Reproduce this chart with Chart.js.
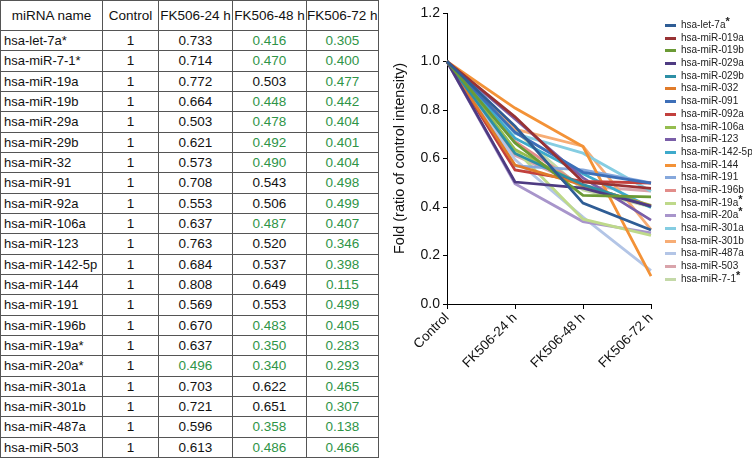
<!DOCTYPE html>
<html>
<head>
<meta charset="utf-8">
<script src="https://cdn.jsdelivr.net/npm/chart.js@4.4.1/dist/chart.umd.min.js"></script>
<style>
body { margin: 0; width: 752px; height: 459px; background: #fff; position: relative; overflow: hidden; font-family: "Liberation Sans", Arial, sans-serif; }
#tbl { position: absolute; left: 0; top: 0; border-collapse: collapse; table-layout: fixed; }
#tbl td, #tbl th { border: 1px solid #555; padding: 0; font-size: 13.5px; text-align: center; font-weight: normal; color: #111; white-space: nowrap; overflow: hidden; }
#tbl th { font-size: 13.5px; }
#tbl tr.head { height: 30px; }
#tbl tr.row { height: 20.33px; }
#tbl td.name { text-align: left; padding-left: 3px; font-size: 13px; }
#tbl td.low { color: #2f9447; }
#wrap { position: absolute; left: 380px; top: 0; width: 372px; height: 459px; }
#legend { position: absolute; left: 665px; top: 19px; font-size: 10px; color: #222; }
.item { height: 12.7px; line-height: 12.7px; position: relative; white-space: nowrap; padding-left: 16px; }
.item i { position: absolute; left: 0; top: 5px; width: 11px; height: 3px; }
.item b { font-size: 11px; line-height: 0; position: relative; top: -3px; }
</style>
</head>
<body>
<table id="tbl"></table>
<div id="wrap"><canvas id="chart" width="372" height="459"></canvas></div>
<div id="legend"></div>
<script>
'use strict';
const headers = ['miRNA name', 'Control', 'FK506-24 h', 'FK506-48 h', 'FK506-72 h'];
const timePoints = ['Control', 'FK506-24 h', 'FK506-48 h', 'FK506-72 h'];
const rowNames = ['hsa-let-7a*', 'hsa-miR-7-1*', 'hsa-miR-19a', 'hsa-miR-19b', 'hsa-miR-29a', 'hsa-miR-29b', 'hsa-miR-32', 'hsa-miR-91', 'hsa-miR-92a', 'hsa-miR-106a', 'hsa-miR-123', 'hsa-miR-142-5p', 'hsa-miR-144', 'hsa-miR-191', 'hsa-miR-196b', 'hsa-miR-19a*', 'hsa-miR-20a*', 'hsa-miR-301a', 'hsa-miR-301b', 'hsa-miR-487a', 'hsa-miR-503'];
const control = [1, 1, 1, 1, 1, 1, 1, 1, 1, 1, 1, 1, 1, 1, 1, 1, 1, 1, 1, 1, 1];
const h24 = [0.733, 0.714, 0.772, 0.664, 0.503, 0.621, 0.573, 0.708, 0.553, 0.637, 0.763, 0.684, 0.808, 0.569, 0.670, 0.637, 0.496, 0.703, 0.721, 0.596, 0.613];
const h48 = [0.416, 0.470, 0.503, 0.448, 0.478, 0.492, 0.490, 0.543, 0.506, 0.487, 0.520, 0.537, 0.649, 0.553, 0.483, 0.350, 0.340, 0.622, 0.651, 0.358, 0.486];
const h72 = [0.305, 0.400, 0.477, 0.442, 0.404, 0.401, 0.404, 0.498, 0.499, 0.407, 0.346, 0.398, 0.115, 0.499, 0.405, 0.283, 0.293, 0.465, 0.307, 0.138, 0.466];

// legend order of the chart, with the table row each series comes from
const legendNames = ['hsa-let-7a', 'hsa-miR-019a', 'hsa-miR-019b', 'hsa-miR-029a', 'hsa-miR-029b', 'hsa-miR-032', 'hsa-miR-091', 'hsa-miR-092a', 'hsa-miR-106a', 'hsa-miR-123', 'hsa-miR-142-5p', 'hsa-miR-144', 'hsa-miR-191', 'hsa-miR-196b', 'hsa-miR-19a', 'hsa-miR-20a', 'hsa-miR-301a', 'hsa-miR-301b', 'hsa-miR-487a', 'hsa-miR-503', 'hsa-miR-7-1'];
const legendStar = [true, false, false, false, false, false, false, false, false, false, false, false, false, false, true, true, false, false, false, false, true];
const legendRows = [0, 2, 3, 4, 5, 6, 7, 8, 9, 10, 11, 12, 13, 14, 15, 16, 17, 18, 19, 20, 1];
const colors = ['#2f5d95', '#983234', '#6b9a35', '#4e3b82', '#2d8fa5', '#e07b2a', '#3d6fb8', '#c2403d', '#95bd4f', '#7a5ea8', '#3eaacb', '#f39237', '#86a8dc', '#e28d8a', '#bed98a', '#a895cb', '#85cde2', '#f7ad75', '#b3c5e6', '#d9a4ab', '#c4d9a8'];

const colWidths = [102, 56, 74, 74, 71];
const font = '"Liberation Sans", Arial, sans-serif';

(function buildTable() {
    const tbl = document.getElementById('tbl');
    const cg = document.createElement('colgroup');
    for (let i = 0; i < colWidths.length; i++) {
        const c = document.createElement('col');
        c.style.width = colWidths[i] + 'px';
        cg.appendChild(c);
    }
    tbl.appendChild(cg);
    const head = document.createElement('tr');
    head.className = 'head';
    for (let i = 0; i < headers.length; i++) {
        const th = document.createElement('th');
        th.textContent = headers[i];
        head.appendChild(th);
    }
    tbl.appendChild(head);
    for (let r = 0; r < rowNames.length; r++) {
        const tr = document.createElement('tr');
        tr.className = 'row';
        const nameTd = document.createElement('td');
        nameTd.className = 'name';
        nameTd.textContent = rowNames[r];
        tr.appendChild(nameTd);
        const ctl = document.createElement('td');
        ctl.textContent = control[r];
        tr.appendChild(ctl);
        const vals = [h24[r], h48[r], h72[r]];
        for (let k = 0; k < vals.length; k++) {
            const td = document.createElement('td');
            td.textContent = vals[k].toFixed(3);
            if (vals[k] < 0.5) td.className = 'low';
            tr.appendChild(td);
        }
        tbl.appendChild(tr);
    }
})();

const datasets = [];
for (let i = 0; i < legendNames.length; i++) {
    const r = legendRows[i];
    datasets.push({
        label: legendNames[i] + (legendStar[i] ? '*' : ''),
        data: [control[r], h24[r], h48[r], h72[r]],
        borderColor: colors[i],
        backgroundColor: colors[i],
    });
}

(function buildLegend() {
    const lg = document.getElementById('legend');
    for (let i = 0; i < legendNames.length; i++) {
        const item = document.createElement('div');
        item.className = 'item';
        const mark = document.createElement('i');
        mark.style.background = colors[i];
        item.appendChild(mark);
        item.appendChild(document.createTextNode(legendNames[i]));
        if (legendStar[i]) {
            const s = document.createElement('b');
            s.textContent = '*';
            item.appendChild(s);
        }
        lg.appendChild(item);
    }
})();

new Chart(document.getElementById('chart'), {
    type: 'line',
    data: { labels: timePoints, datasets: datasets },
    options: {
        responsive: false,
        animation: false,
        layout: { padding: { top: 13, right: 101, bottom: 0, left: 0 } },
        plugins: { legend: { display: false }, tooltip: { enabled: false } },
        elements: { point: { radius: 0 }, line: { borderWidth: 2.8, tension: 0 } },
        scales: {
            x: {
                offset: false,
                grid: { drawOnChartArea: false, drawTicks: true, tickLength: 5, color: '#000' },
                border: { color: '#000' },
                ticks: { color: '#111', font: { size: 13.5, family: font }, maxRotation: 45, minRotation: 45, padding: 1 },
                afterFit: function (s) { s.height = 155; }
            },
            y: {
                min: 0,
                max: 1.2,
                grid: { drawOnChartArea: false, drawTicks: true, tickLength: 4, color: '#000' },
                border: { color: '#000' },
                ticks: { stepSize: 0.2, color: '#111', font: { size: 14, family: font }, padding: 3, callback: function (v) { return v.toFixed(1); } },
                title: { display: true, text: 'Fold (ratio of control intensity)', color: '#111', font: { size: 14.5, family: font }, padding: { top: 11, bottom: 0 } },
                afterFit: function (s) { s.width = 67; }
            }
        }
    }
});
</script>
</body>
</html>
